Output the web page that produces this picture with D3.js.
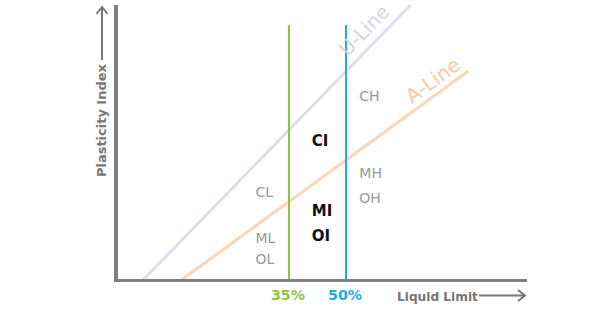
<!DOCTYPE html>
<html><head><meta charset="utf-8">
<script src="https://cdn.jsdelivr.net/npm/d3@7"></script>
<style>
html,body{margin:0;padding:0;background:#fff;}
svg{display:block;font-family:"DejaVu Sans",sans-serif;}
</style></head>
<body>
<svg id="chart" width="600" height="309"></svg>
<script>
// ---- data (schematic plasticity chart, LL and PI units) ----
const thresholds = [35, 50];
const thresholdLabels = ["35%", "50%"];
const thresholdColors = ["#8cc63f", "#19aeea"];
const thresholdTop = 67.1;               // PI where the vertical lines stop
const uLine = [[-3.4, 0], [67.0, 72.4]];  // [LL, PI]
const aLine = [[6.7, 0], [82.1, 55.0]];
const zoneNames = ["CH", "CI", "CL", "MH", "OH", "MI", "OI", "ML", "OL"];
const zoneLL =    [53.5, 41.0, 26.2, 53.5, 53.5, 41.0, 41.0, 26.2, 26.2];
const zonePI =    [47.0, 35.3, 21.9, 26.8, 20.3, 16.9, 10.2, 9.7, 4.2];
const zoneBold =  [false, true, false, false, false, true, true, false, false];
const axisDomainLL = [-10.5, 97.6];
const axisDomainPI = [0, 72.4];

// ---- scales ----
const x = d3.scaleLinear().domain(axisDomainLL).range([116, 527]);
const y = d3.scaleLinear().domain(axisDomainPI).range([280, 5]);

const svg = d3.select("#chart");

// fit a text element to a target width by adjusting font size
function fit(sel, w) {
  sel.each(function() {
    const n = this, base = 14;
    d3.select(n).attr("font-size", base);
    const m = n.getComputedTextLength();
    if (m > 0) d3.select(n).attr("font-size", (base * w / m).toFixed(2));
  });
  return sel;
}

// guide lines
const line = d3.line().x(d => x(d[0])).y(d => y(d[1]));
svg.append("path").attr("d", line(uLine)).attr("stroke", "#e0dcef").attr("stroke-width", 3).attr("fill", "none");
svg.append("path").attr("d", line(aLine)).attr("stroke", "#fdd5b4").attr("stroke-width", 3).attr("fill", "none");

// threshold verticals
svg.selectAll(".thr").data(thresholds).join("line")
  .attr("x1", d => x(d)).attr("x2", d => x(d))
  .attr("y1", y(0)).attr("y2", y(thresholdTop))
  .attr("stroke", (d, i) => thresholdColors[i]).attr("stroke-width", 2);

// axes
svg.append("line").attr("x1", x(axisDomainLL[0])).attr("x2", x(axisDomainLL[0]))
  .attr("y1", y(0) + 1.5).attr("y2", y(axisDomainPI[1]))
  .attr("stroke", "#808080").attr("stroke-width", 4);
svg.append("line").attr("x1", x(axisDomainLL[0]) - 2).attr("x2", x(axisDomainLL[1]))
  .attr("y1", y(0) + 0.5).attr("y2", y(0) + 0.5)
  .attr("stroke", "#808080").attr("stroke-width", 3);

// threshold labels
svg.selectAll(".thrLab").data(thresholds).join("text")
  .attr("x", d => x(d) - 1).attr("y", 299.5)
  .attr("text-anchor", "middle").attr("font-weight", "bold")
  .attr("fill", (d, i) => thresholdColors[i])
  .text((d, i) => thresholdLabels[i])
  .call(fit, 34);

// zone labels
svg.selectAll(".zone").data(zoneNames).join("text")
  .attr("x", (d, i) => x(zoneLL[i])).attr("y", (d, i) => y(zonePI[i]))
  .attr("font-size", (d, i) => zoneBold[i] ? 15 : 14)
  .attr("font-weight", (d, i) => zoneBold[i] ? "bold" : "normal")
  .attr("fill", (d, i) => zoneBold[i] ? "#111" : "#999")
  .text(d => d);

// line labels
function lineLabel(seg, txt, color, cx, cy, w) {
  const ang = Math.atan2(y(seg[1][1]) - y(seg[0][1]), x(seg[1][0]) - x(seg[0][0])) * 180 / Math.PI;
  svg.append("text").attr("transform", `translate(${cx},${cy}) rotate(${ang})`)
    .attr("text-anchor", "middle").attr("fill", color).text(txt).call(fit, w);
}
lineLabel(uLine, "U-Line", "#d6d2ea", 369, 35, 62);
lineLabel(aLine, "A-Line", "#fcc9a2", 437, 86, 62);

// axis titles with arrows
const arrowCol = "#777";
svg.append("text").attr("x", 397).attr("y", 300.5).attr("font-weight", "bold")
  .attr("fill", arrowCol).text("Liquid Limit").call(fit, 81);
svg.append("line").attr("x1", 479).attr("x2", 524).attr("y1", 295.5).attr("y2", 295.5)
  .attr("stroke", arrowCol).attr("stroke-width", 2);
svg.append("path").attr("d", "M518,290 L525,295.5 L518,301").attr("stroke", arrowCol).attr("stroke-width", 2).attr("fill", "none");

svg.append("text").attr("transform", "translate(106,177) rotate(-90)").attr("font-weight", "bold")
  .attr("fill", arrowCol).text("Plasticity Index").call(fit, 113);
svg.append("line").attr("x1", 102).attr("x2", 102).attr("y1", 60).attr("y2", 8)
  .attr("stroke", arrowCol).attr("stroke-width", 2);
svg.append("path").attr("d", "M96.5,14 L102,7 L107.5,14").attr("stroke", arrowCol).attr("stroke-width", 2).attr("fill", "none");
</script>
</body></html>
